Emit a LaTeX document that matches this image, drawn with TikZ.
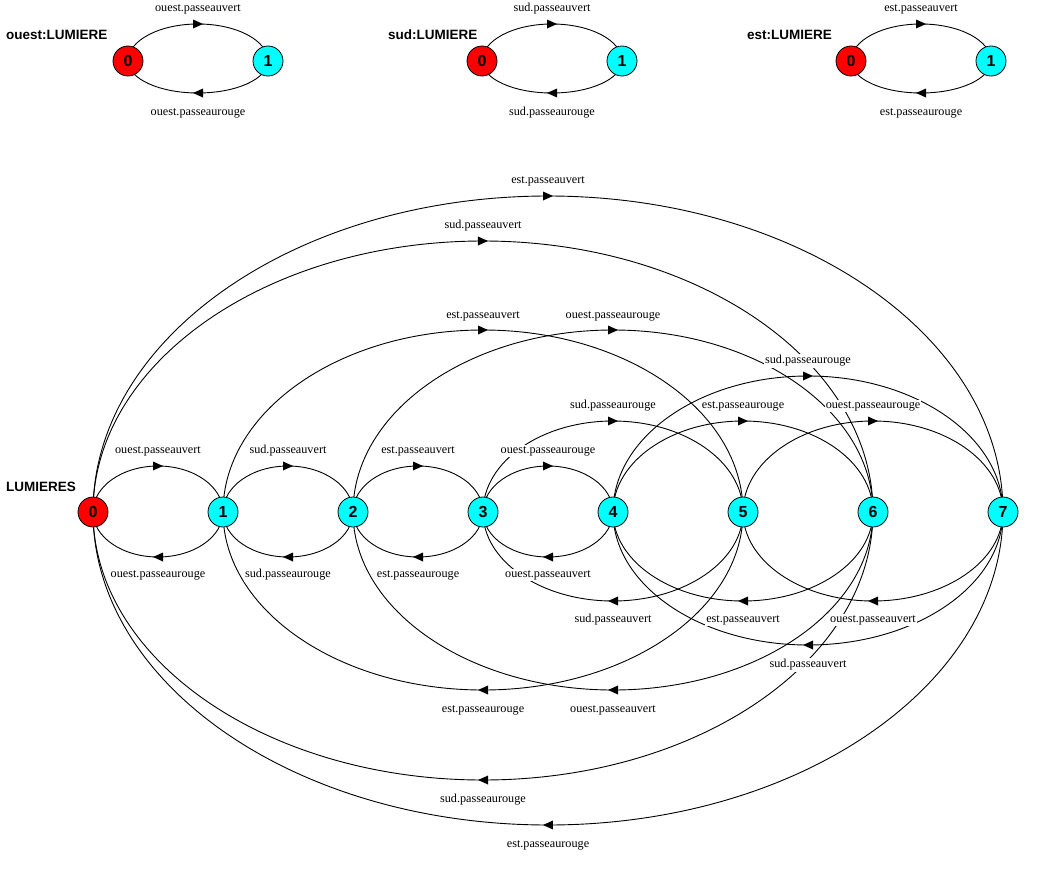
\documentclass[tikz,border=0pt]{standalone}
\usepackage{fontspec}
\setmainfont{Liberation Serif}
\setsansfont{Liberation Sans}
\usetikzlibrary{decorations.markings}
\pgfdeclarelayer{bg}
\pgfsetlayers{bg,main}

\definecolor{stinit}{RGB}{255,0,0}
\definecolor{stother}{RGB}{0,255,255}

\tikzset{
  state/.style={circle, draw=black, line width=0.8pt, minimum size=30pt, inner sep=0pt,
    font=\fontsize{16}{16}\selectfont\sffamily\bfseries},
  init/.style={state, fill=stinit},
  other/.style={state, fill=stother},
  act/.style={fill=white, inner sep=1pt, yshift=-2pt, font=\fontsize{12.2}{13}\selectfont},
  title/.style={anchor=west, inner sep=0pt, yshift=-1pt, font=\fontsize{13.5}{14}\selectfont\sffamily\bfseries},
  tr/.style={draw=black, line width=0.9pt, postaction={decorate},
    decoration={markings, mark=at position 0.5 with
      {\fill[black] (5pt,0pt) -- (-5pt,4.5pt) -- (-5pt,-4.5pt) -- cycle;}}}
}

% half-ellipse transitions: over the top from left to right,
% under the bottom from right to left
\newcommand\ltsup[3]{\draw[tr] (#1.center) arc[start angle=180, end angle=0, x radius=#2, y radius=#3];}
\newcommand\ltsdown[3]{\draw[tr] (#1.center) arc[start angle=0, end angle=-180, x radius=#2, y radius=#3];}

\begin{document}
\begin{tikzpicture}[x=1pt, y=1pt]
\useasboundingbox (0,0) rectangle (1060,-878);

% ---- component ouest ----
\node[title] (tO) at (6,-34) {ouest:LUMIERE};
\node[init]  (o0) at (128,-61) {0};
\node[other] (o1) at (268,-61) {1};
\node[act] (oa) at (198,-7) {ouest.passeauvert};
\node[act] (ob) at (198,-111) {ouest.passeaurouge};

% ---- component sud ----
\node[title] (tS) at (388,-34) {sud:LUMIERE};
\node[init]  (s0) at (482,-61) {0};
\node[other] (s1) at (622,-61) {1};
\node[act] (sa) at (552,-7) {sud.passeauvert};
\node[act] (sb) at (552,-111) {sud.passeaurouge};

% ---- component est ----
\node[title] (tE) at (747,-34) {est:LUMIERE};
\node[init]  (e0) at (851,-61) {0};
\node[other] (e1) at (991,-61) {1};
\node[act] (ea) at (921,-7) {est.passeauvert};
\node[act] (eb) at (921,-111) {est.passeaurouge};

% ---- composition LUMIERES ----
\node[title] (tL) at (6,-486) {LUMIERES};
\node[init]  (n0) at (93,-512) {0};
\node[other] (n1) at (223,-512) {1};
\node[other] (n2) at (353,-512) {2};
\node[other] (n3) at (483,-512) {3};
\node[other] (n4) at (613,-512) {4};
\node[other] (n5) at (743,-512) {5};
\node[other] (n6) at (873,-512) {6};
\node[other] (n7) at (1003,-512) {7};

% action labels above
\node[act] (u01) at (158,-449) {ouest.passeauvert};
\node[act] (u12) at (288,-449) {sud.passeauvert};
\node[act] (u23) at (418,-449) {est.passeauvert};
\node[act] (u34) at (548,-449) {ouest.passeaurouge};
\node[act] (u35) at (613,-404) {sud.passeaurouge};
\node[act] (u46) at (743,-404) {est.passeaurouge};
\node[act] (u57) at (873,-404) {ouest.passeaurouge};
\node[act] (u47) at (808,-359) {sud.passeaurouge};
\node[act] (u15) at (483,-314) {est.passeauvert};
\node[act] (u26) at (613,-314) {ouest.passeaurouge};
\node[act] (u06) at (483,-224) {sud.passeauvert};
\node[act] (u07) at (548,-179) {est.passeauvert};

% action labels below
\node[act] (d10) at (158,-573) {ouest.passeaurouge};
\node[act] (d21) at (288,-573) {sud.passeaurouge};
\node[act] (d32) at (418,-573) {est.passeaurouge};
\node[act] (d43) at (548,-573) {ouest.passeauvert};
\node[act] (d53) at (613,-618) {sud.passeauvert};
\node[act] (d64) at (743,-618) {est.passeauvert};
\node[act] (d75) at (873,-618) {ouest.passeauvert};
\node[act] (d74) at (808,-663) {sud.passeauvert};
\node[act] (d51) at (483,-708) {est.passeaurouge};
\node[act] (d62) at (613,-708) {ouest.passeauvert};
\node[act] (d60) at (483,-798) {sud.passeaurouge};
\node[act] (d70) at (548,-843) {est.passeaurouge};

\begin{pgfonlayer}{bg}
  % components
  \ltsup{o0}{70}{37}   \ltsdown{o1}{70}{32}
  \ltsup{s0}{70}{37}   \ltsdown{s1}{70}{32}
  \ltsup{e0}{70}{37}   \ltsdown{e1}{70}{32}
  % composition, upper arcs
  \ltsup{n0}{65}{46} \ltsup{n1}{65}{46} \ltsup{n2}{65}{46} \ltsup{n3}{65}{46}
  \ltsup{n3}{130}{91} \ltsup{n4}{130}{91} \ltsup{n5}{130}{91}
  \ltsup{n4}{195}{136}
  \ltsup{n1}{260}{182} \ltsup{n2}{260}{182}
  \ltsup{n0}{390}{271}
  \ltsup{n0}{455}{316}
  % composition, lower arcs
  \ltsdown{n1}{65}{45} \ltsdown{n2}{65}{45} \ltsdown{n3}{65}{45} \ltsdown{n4}{65}{45}
  \ltsdown{n5}{130}{89} \ltsdown{n6}{130}{89} \ltsdown{n7}{130}{89}
  \ltsdown{n7}{195}{133}
  \ltsdown{n5}{260}{178} \ltsdown{n6}{260}{178}
  \ltsdown{n6}{390}{268}
  \ltsdown{n7}{455}{313}
\end{pgfonlayer}
\end{tikzpicture}
\end{document}
